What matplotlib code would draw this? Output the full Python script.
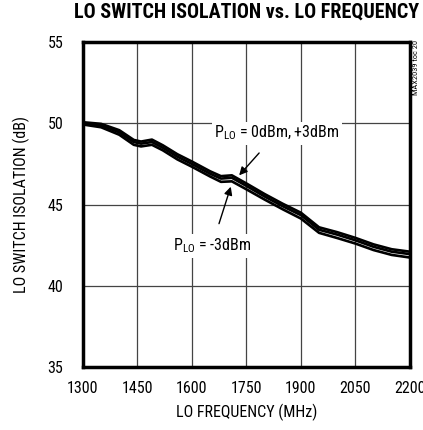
import matplotlib

matplotlib.use("Agg")
import matplotlib.pyplot as plt

plt.rcParams["font.family"] = ["Roboto Condensed", "DejaVu Sans"]
plt.rcParams["mathtext.fontset"] = "custom"
plt.rcParams["mathtext.rm"] = "Roboto Condensed"

# LO frequency (MHz) and isolation (dB)
freq = [1300, 1350, 1400, 1440, 1460, 1490, 1520, 1560, 1600, 1650, 1680, 1710,
        1750, 1800, 1850, 1900, 1950, 2000, 2050, 2100, 2150, 2200]
iso_p3dbm = [50.07, 49.97, 49.58, 48.98, 48.88, 49.0, 48.65, 48.1, 47.65, 47.05, 46.75, 46.8,
             46.3, 45.65, 45.05, 44.5, 43.6, 43.3, 42.95, 42.55, 42.25, 42.1]
iso_0dbm = [50.0, 49.88, 49.45, 48.85, 48.75, 48.85, 48.5, 47.95, 47.5, 46.9, 46.6, 46.65,
            46.15, 45.5, 44.9, 44.35, 43.45, 43.15, 42.8, 42.4, 42.1, 41.95]
iso_m3dbm = [49.93, 49.76, 49.3, 48.68, 48.58, 48.68, 48.34, 47.78, 47.33, 46.73, 46.4, 46.43,
             45.94, 45.31, 44.71, 44.14, 43.26, 42.94, 42.6, 42.2, 41.9, 41.74]

x_ticks = [1300, 1450, 1600, 1750, 1900, 2050, 2200]
y_ticks = [35, 40, 45, 50, 55]

fig = plt.figure(figsize=(4.23, 4.30), dpi=100)
ax = fig.add_axes([0.196, 0.1465, 0.773, 0.7555])

for ys in (iso_p3dbm, iso_0dbm, iso_m3dbm):
    ax.plot(freq, ys, color="black", lw=1.9, solid_capstyle="butt")

ax.set_xlim(1300, 2200)
ax.set_ylim(35, 55)
ax.set_xticks(x_ticks)
ax.set_yticks(y_ticks)
ax.grid(True, color="#444444", lw=0.9)
ax.set_axisbelow(True)
ax.tick_params(length=0, labelsize=11.5)
ax.tick_params(axis="x", pad=10)
ax.tick_params(axis="y", pad=14)
for spine in ax.spines.values():
    spine.set_linewidth(2.5)
    spine.set_zorder(5)

ax.set_xlabel("LO FREQUENCY (MHz)", fontsize=11.5, labelpad=6)
ax.set_ylabel("LO SWITCH ISOLATION (dB)", fontsize=11.5, labelpad=13)
fig.text(0.99, 0.972, "LO SWITCH ISOLATION vs. LO FREQUENCY", ha="right", va="center",
         fontsize=14.5, fontweight="bold")
fig.text(0.983, 0.907, "MAX2039 toc 20", rotation=90, ha="center", va="top", fontsize=6)

bbox = dict(boxstyle="square,pad=0.15", fc="white", ec="none")
arrow = dict(arrowstyle="-|>", color="black", lw=1, shrinkA=8, shrinkB=0, mutation_scale=12)
ax.annotate("P$_{\\mathrm{LO}}$ = 0dBm, +3dBm", xy=(1730, 46.8), xytext=(1834, 49.4),
            ha="center", va="center", fontsize=11.5, bbox=bbox, arrowprops=arrow)
ax.annotate("P$_{\\mathrm{LO}}$ = -3dBm", xy=(1707, 46.1), xytext=(1655, 42.45),
            ha="center", va="center", fontsize=11.5, bbox=bbox, arrowprops=arrow)

fig.savefig("out.png", dpi=100)
